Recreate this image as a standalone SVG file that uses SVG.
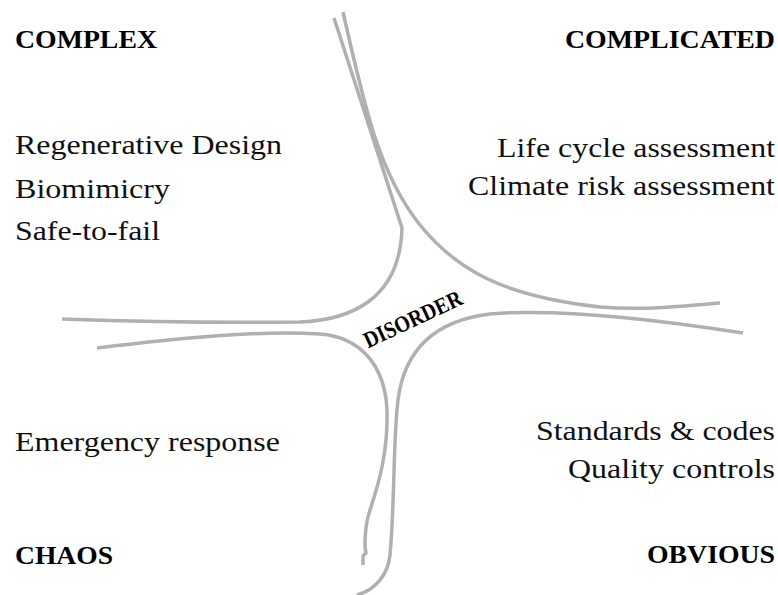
<svg xmlns="http://www.w3.org/2000/svg" width="778" height="595" viewBox="0 0 778 595">
<style>
.bd{fill:none;stroke:#b0b0b0;stroke-width:3.5;stroke-linejoin:round}
.t{font-family:"Liberation Serif","Times New Roman",serif;font-size:27px;fill:#111}
.h{font-family:"Liberation Serif","Times New Roman",serif;font-size:25px;font-weight:bold;fill:#000}
.d{font-family:"Liberation Serif","Times New Roman",serif;font-size:23px;font-weight:bold;fill:#000}
</style>
<rect width="778" height="595" fill="#fff"/>
<g id="boundaries">
<path class="bd" d="M334,18 L402,228 C400,300 350,320 300,322 C220,323 120,321 62,319"/>
<path class="bd" d="M343,12 C365,110 380,175 420,225 C455,268 500,296 600,307 C650,311 690,305 720,303"/>
<path class="bd" d="M743,333 C660,320 560,308 490,314 C440,320 405,345 398,400 C393,440 395,500 390,555 C388,575 375,590 357,595"/>
<path class="bd" d="M97,348 C180,338 260,330 320,334 C360,337 385,365 387,410 C388,450 380,480 370,510 C365,525 364,545 366,553 L363,556 L363,565"/>
</g>
<g id="complex">
<text class="h" x="15" y="48" textLength="142" lengthAdjust="spacingAndGlyphs">COMPLEX</text>
<text class="t" x="15" y="154" textLength="267" lengthAdjust="spacingAndGlyphs">Regenerative Design</text>
<text class="t" x="15" y="198" textLength="155" lengthAdjust="spacingAndGlyphs">Biomimicry</text>
<text class="t" x="15" y="240" textLength="145" lengthAdjust="spacingAndGlyphs">Safe-to-fail</text>
</g>
<g id="complicated">
<text class="h" x="565" y="48" textLength="210" lengthAdjust="spacingAndGlyphs">COMPLICATED</text>
<text class="t" x="497" y="157" textLength="278" lengthAdjust="spacingAndGlyphs">Life cycle assessment</text>
<text class="t" x="468" y="195" textLength="307" lengthAdjust="spacingAndGlyphs">Climate risk assessment</text>
</g>
<g id="chaos">
<text class="t" x="15" y="451" textLength="265" lengthAdjust="spacingAndGlyphs">Emergency response</text>
<text class="h" x="15" y="564" textLength="98" lengthAdjust="spacingAndGlyphs">CHAOS</text>
</g>
<g id="obvious">
<text class="t" x="536" y="440" textLength="239" lengthAdjust="spacingAndGlyphs">Standards &amp; codes</text>
<text class="t" x="568" y="478" textLength="207" lengthAdjust="spacingAndGlyphs">Quality controls</text>
<text class="h" x="647" y="563" textLength="128" lengthAdjust="spacingAndGlyphs">OBVIOUS</text>
</g>
<g id="disorder">
<text class="d" x="363" y="326" textLength="106" lengthAdjust="spacingAndGlyphs" transform="rotate(-25 416 326)">DISORDER</text>
</g>
</svg>
